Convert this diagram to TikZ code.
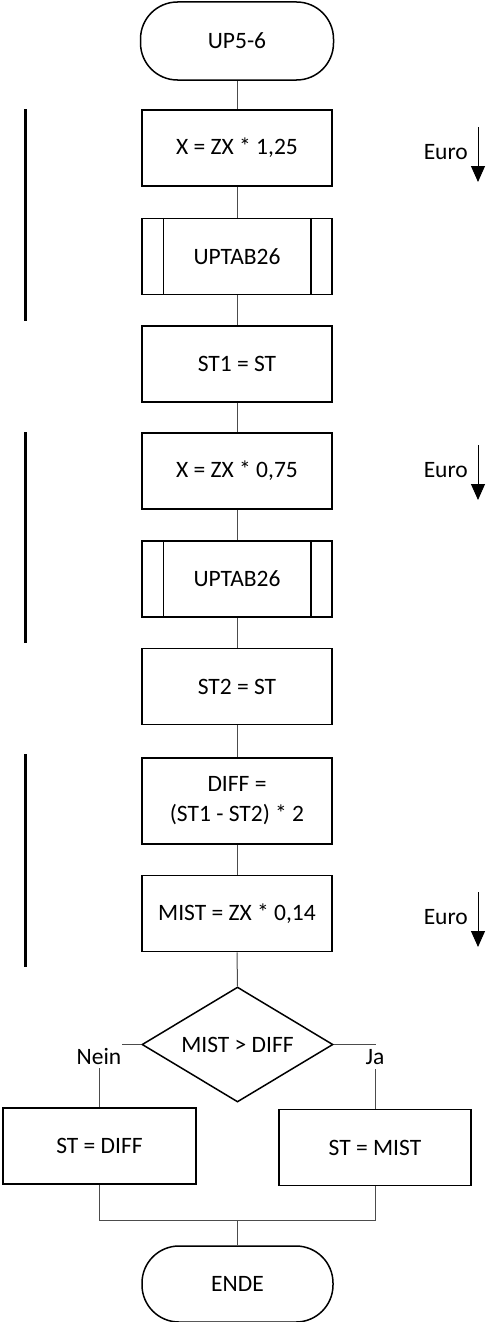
\documentclass[tikz,border=0pt]{standalone}
\usepackage{fontspec}
\setmainfont{Carlito}
\usetikzlibrary{shapes.geometric,arrows.meta}

\tikzset{
  box/.style={draw, line width=1.5pt, minimum width=190pt, minimum height=76pt, inner sep=2pt, align=center},
  term/.style={box, rounded corners=37pt, minimum width=193pt, minimum height=78pt},
  decide/.style={draw, line width=1.5pt, diamond, aspect=1.66, minimum width=191pt, minimum height=115pt, inner sep=0pt},
  conn/.style={draw=black!70, line width=1pt},
  bar/.style={line width=3pt},
  euro/.style={line width=1pt, -{Triangle[width=14pt,length=16pt]}},
  lbl/.style={fill=white, inner xsep=1pt, inner ysep=4pt}
}

\begin{document}
\begin{tikzpicture}[x=1pt, y=-1pt, font=\fontsize{23.5}{30}\selectfont]
\useasboundingbox (0,0) rectangle (487,1322);

\node[term] (start) at (237,41) {UP5-6};
\node[box] (x1) at (237,148) {X = ZX * 1,25};
\node[box] (tab1) at (237,256.5) {UPTAB26};
\node[box] (st1) at (237,364) {ST1 = ST};
\node[box] (x2) at (237,471) {X = ZX * 0,75};
\node[box] (tab2) at (237,579) {UPTAB26};
\node[box] (st2) at (237,686.5) {ST2 = ST};
\node[box, minimum height=86pt] (diff) at (237,801) {DIFF =\\(ST1 - ST2) * 2};
\node[box] (mist) at (237,913.5) {MIST = ZX * 0,14};
\node[decide] (dec) at (237.5,1044.5) {MIST > DIFF};
\node[box, minimum width=193pt] (stdiff) at (99.5,1146) {ST = DIFF};
\node[box, minimum width=192pt] (stmist) at (375,1147.5) {ST = MIST};
\node[term, minimum width=191pt, minimum height=76pt] (ende) at (237.5,1284) {ENDE};
\coordinate (merge) at (237.5,1220);

% subroutine side lines
\foreach \t in {tab1,tab2} {
  \draw[line width=1.5pt] ([xshift=22pt]\t.north west) -- ([xshift=22pt]\t.south west);
  \draw[line width=1.5pt] ([xshift=-22pt]\t.north east) -- ([xshift=-22pt]\t.south east);
}

% main flow
\foreach \a/\b in {start/x1, x1/tab1, tab1/st1, st1/x2, x2/tab2, tab2/st2, st2/diff, diff/mist, mist/dec}
  \draw[conn] (\a.south) -- (\b.north);

% branches
\draw[conn] (dec.west) -| (stdiff.north);
\draw[conn] (dec.east) -| (stmist.north);
\node[lbl] (nein) at (99,1056) {Nein};
\node[lbl] (ja) at (375,1057) {Ja};
\draw[conn] (stdiff.south) |- (merge) -| (stmist.south);
\draw[conn] (merge) -- (ende.north);

% bars on the left
\foreach \a/\b in {109/321, 432/643, 754/967}
  \draw[bar] (25,\a) -- (25,\b);

% currency arrows
\foreach \n/\y in {1/127, 2/445, 3/892} {
  \coordinate (eu\n) at (478,\y);
  \draw[euro] (eu\n) -- ++(0,55);
  \node[anchor=east, inner sep=2pt] (eurotxt\n) at (470,\y+25) {Euro};
}
\end{tikzpicture}
\end{document}
